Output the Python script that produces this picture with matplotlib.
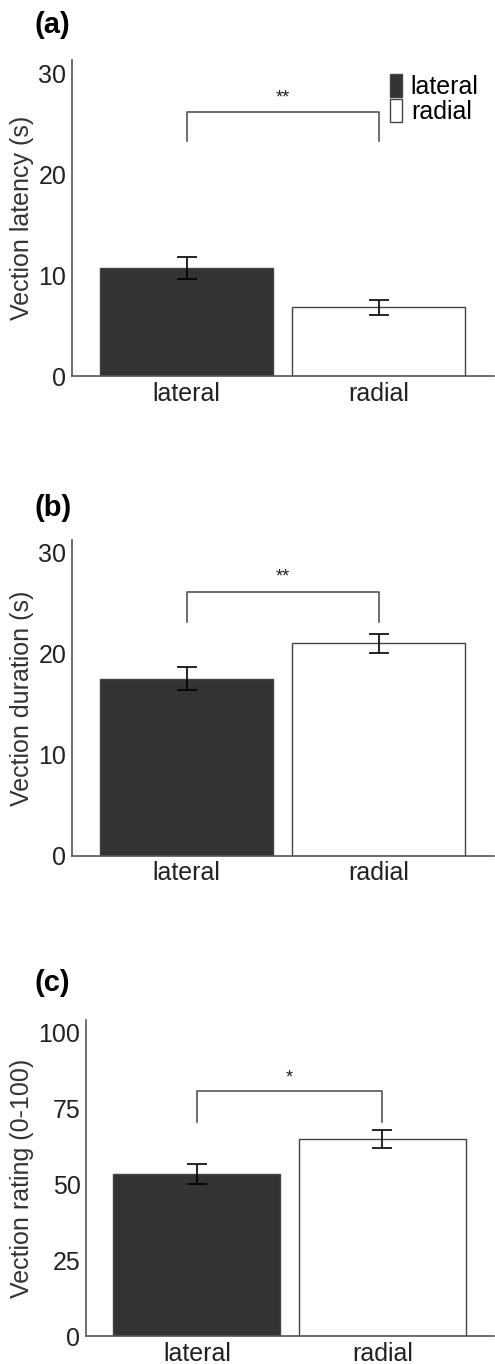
import matplotlib
matplotlib.use("Agg")
import matplotlib.pyplot as plt

plt.rcParams['font.family'] = ['Liberation Sans', 'DejaVu Sans']

conditions = ['lateral', 'radial']
bar_colors = ['#333333', '#ffffff']

latency_mean = [10.7, 6.8]
latency_err = [1.1, 0.75]
duration_mean = [17.5, 21.0]
duration_err = [1.15, 0.95]
rating_mean = [53.3, 64.9]
rating_err = [3.2, 2.9]

panels = [
    # label, ylabel, means, errs, yticks, ylim top, bracket (top, leg bottom, star y), stars
    ('(a)', 'Vection latency (s)', latency_mean, latency_err, [0, 10, 20, 30], 31.3, (26.2, 23.3, 27.5), '**'),
    ('(b)', 'Vection duration (s)', duration_mean, duration_err, [0, 10, 20, 30], 31.2, (26.1, 23.1, 27.5), '**'),
    ('(c)', 'Vection rating (0-100)', rating_mean, rating_err, [0, 25, 50, 75, 100], 104, (80.6, 70.5, 85.0), '*'),
]

# axes rectangles in figure fractions [left, bottom, width, height]
rects = [
    [0.1455, 0.7243, 0.853, 0.2317],
    [0.1455, 0.3727, 0.853, 0.2314],
    [0.1737, 0.0205, 0.825, 0.2317],
]
label_y = [1 - 25 / 1364, 1 - 508 / 1364, 1 - 983 / 1364]

fig = plt.figure(figsize=(4.95, 13.64), dpi=100)
spine_col = '#555555'
fs = 18

for i, (lab, ylab, means, errs, yt, ytop, br, stars) in enumerate(panels):
    ax = fig.add_axes(rects[i])
    x = [0, 1]
    bars = ax.bar(x, means, width=0.9, color=bar_colors, edgecolor='#444444', linewidth=1.0)
    ax.errorbar(x, means, yerr=errs, fmt='none', ecolor='black', elinewidth=1.2,
                capsize=7, capthick=1.2)
    ax.set_xlim(-0.598, 1.603)
    ax.set_ylim(0, ytop)
    ax.set_yticks(yt)
    ax.set_xticks(x)
    ax.set_xticklabels(conditions)
    ax.tick_params(length=0, labelsize=fs, colors='#222222', pad=4)
    ax.set_ylabel(ylab, fontsize=fs, color='#333333', labelpad=3)
    for s in ['top', 'right']:
        ax.spines[s].set_visible(False)
    for s in ['left', 'bottom']:
        ax.spines[s].set_color(spine_col)
        ax.spines[s].set_linewidth(1.2)

    # significance bracket
    top, leg, sy = br
    ax.plot([0, 0, 1, 1], [leg, top, top, leg], color=spine_col, linewidth=1.2)
    ax.text(0.5, sy, stars, ha='center', va='center', fontsize=13, color='#222222')

    if i == 0:
        ax.legend(bars, conditions, loc='upper right', bbox_to_anchor=(0.975, 0.97),
                  frameon=False, fontsize=fs, handlelength=0.5, handleheight=1.0,
                  handletextpad=0.35, labelspacing=0.0, borderpad=0.0, borderaxespad=0.2)

    fig.text(35 / 495, label_y[i], lab, fontsize=21, fontweight='bold', ha='left', va='center')

fig.savefig('out.png', dpi=100)
